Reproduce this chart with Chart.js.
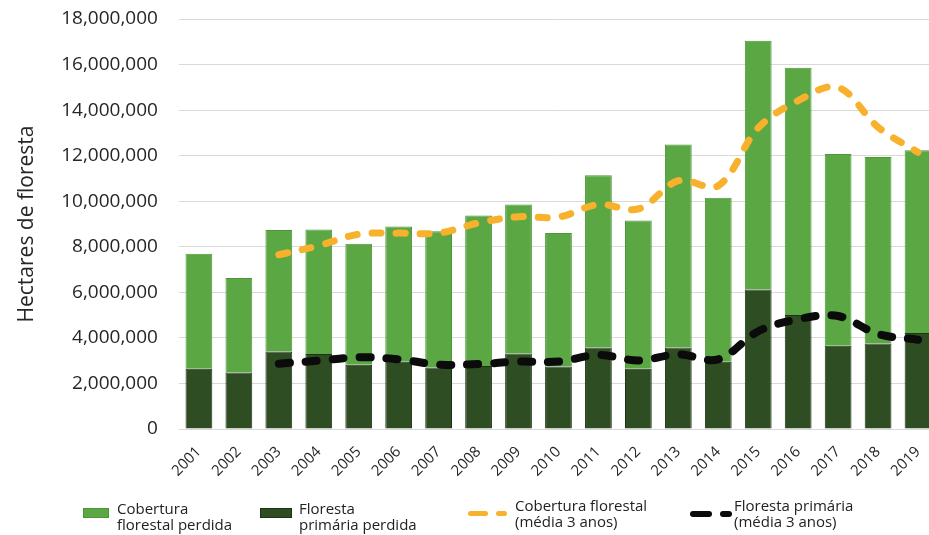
<!DOCTYPE html>
<html>
<head>
<meta charset="utf-8">
<script src="https://cdn.jsdelivr.net/npm/chart.js@4.4.1/dist/chart.umd.min.js"></script>
<style>
  html, body { margin: 0; padding: 0; background: #fff; overflow: hidden; width: 929px; height: 535px; }
  #wrap { position: relative; width: 929px; height: 535px; overflow: hidden; }
  canvas { position: absolute; left: 0; top: 0; }
  .lg { position: absolute; font-family: "Open Sans", sans-serif; font-size: 15px; line-height: 16px; color: #222; white-space: nowrap; }
  .sw { position: absolute; }
</style>
</head>
<body>
<div id="wrap">
  <canvas id="c" width="940" height="535" style="width:940px;height:535px"></canvas>
  <div id="legend"></div>
</div>
<script>
// ---- data ----
const years = ["2001","2002","2003","2004","2005","2006","2007","2008","2009","2010",
               "2011","2012","2013","2014","2015","2016","2017","2018","2019"];
// total tree cover loss (top of each bar), hectares
const totalCoverLoss = [7690000, 6630000, 8740000, 8760000, 8130000, 8890000, 8680000, 9370000, 9860000, 8600000,
                        11140000, 9150000, 12490000, 10150000, 17050000, 15860000, 12070000, 11940000, 12240000];
// primary forest loss (dark lower segment), hectares
const primaryLoss = [2650000, 2480000, 3400000, 3290000, 2820000, 2950000, 2700000, 2770000, 3310000, 2740000,
                     3580000, 2650000, 3580000, 2950000, 6120000, 5000000, 3650000, 3750000, 4210000];
// 3-year averages (dashed lines)
const coverAvg3 = [null, null, 7650000, 8050000, 8550000, 8600000, 8600000, 9050000, 9320000, 9300000,
                   9860000, 9660000, 10900000, 10680000, 13220000, 14420000, 15000000, 13250000, 12150000];
const primaryAvg3 = [null, null, 2870000, 3000000, 3150000, 3060000, 2830000, 2850000, 2960000, 2960000,
                     3250000, 3010000, 3280000, 3060000, 4290000, 4820000, 4960000, 4170000, 3920000];
const yTicks = [0, 2000000, 4000000, 6000000, 8000000, 10000000, 12000000, 14000000, 16000000, 18000000];

const labels = {
  cover: "Cobertura\nflorestal perdida",
  primary: "Floresta\nprimária perdida",
  coverAvg: "Cobertura florestal\n(média 3 anos)",
  primaryAvg: "Floresta primária\n(média 3 anos)"
};

const coverOnly = totalCoverLoss.map((t, i) => t - primaryLoss[i]);

const COL = {
  light: "#5ba743", lightB: "#4c9735",
  dark: "#2e4d22", darkB: "#1c3414",
  orange: "#f7b12c", black: "#0b0b0b",
  text: "#262626", grid: "#d9d9d9"
};

const chart = new Chart(document.getElementById("c"), {
  type: "bar",
  data: {
    labels: years,
    datasets: [
      { type: "line", label: labels.coverAvg, data: coverAvg3, stack: "l1",
        borderColor: COL.orange, borderWidth: 7, borderDash: [9, 15], borderCapStyle: "round",
        pointRadius: 0, tension: 0.35, fill: false },
      { type: "line", label: labels.primaryAvg, data: primaryAvg3, stack: "l2",
        borderColor: COL.black, borderWidth: 8, borderDash: [11, 16], borderCapStyle: "round",
        pointRadius: 0, tension: 0.35, fill: false },
      { type: "bar", label: labels.primary, data: primaryLoss, stack: "b",
        backgroundColor: COL.dark, borderColor: COL.darkB, borderWidth: 1,
        categoryPercentage: 1, barPercentage: 0.67 },
      { type: "bar", label: labels.cover, data: coverOnly, stack: "b",
        backgroundColor: COL.light, borderColor: COL.lightB, borderWidth: 1,
        categoryPercentage: 1, barPercentage: 0.67 }
    ]
  },
  options: {
    responsive: false,
    animation: false,
    devicePixelRatio: 1,
    layout: { padding: { left: 10, right: 2, top: 19, bottom: 49 } },
    plugins: { legend: { display: false }, tooltip: { enabled: false } },
    scales: {
      x: {
        stacked: true,
        grid: { display: false },
        border: { display: false },
        ticks: { color: COL.text, font: { family: "Open Sans", size: 15 }, maxRotation: 45, minRotation: 45, padding: 6, autoSkip: false }
      },
      y: {
        stacked: true,
        min: 0, max: 18000000,
        afterBuildTicks: (axis) => { axis.ticks = yTicks.map(v => ({ value: v })); },
        grid: { color: COL.grid, lineWidth: 1, drawTicks: true, tickLength: 19, tickColor: "rgba(0,0,0,0)" },
        border: { display: false },
        ticks: { color: COL.text, font: { family: "Open Sans", size: 19 }, padding: 2,
                 callback: (v) => Number(v).toLocaleString("en-US") },
        title: { display: true, text: "Hectares de floresta", color: COL.text,
                 font: { family: "Open Sans", size: 21, weight: "normal" }, padding: { top: 4, bottom: 20 } }
      }
    }
  }
});

// ---- HTML legend built from the chart's datasets ----
const legendEl = document.getElementById("legend");
const ds = chart.data.datasets;
const items = [
  { d: ds[3], kind: "box", sw: [83, 508, 26, 10], tx: [117, 500] },
  { d: ds[2], kind: "box", sw: [260, 508, 32, 10], tx: [299, 500] },
  { d: ds[0], kind: "dash", sw: [468, 511, 20, 11, 5], tx: [515, 497] },
  { d: ds[1], kind: "dash", sw: [690, 511, 22, 12, 6], tx: [734, 497] }
];
items.forEach(it => {
  if (it.kind === "box") {
    const s = document.createElement("div");
    s.className = "sw";
    Object.assign(s.style, { left: it.sw[0] + "px", top: it.sw[1] + "px", width: it.sw[2] + "px", height: it.sw[3] + "px",
      background: it.d.backgroundColor, boxSizing: "border-box", border: "1px solid " + it.d.borderColor });
    legendEl.appendChild(s);
  } else {
    const [x, y, w1, w2, h] = it.sw;
    [[x, w1], [x + w1 + 8, w2]].forEach(([lx, w]) => {
      const s = document.createElement("div");
      s.className = "sw";
      Object.assign(s.style, { left: lx + "px", top: y + "px", width: w + "px", height: h + "px",
        background: it.d.borderColor, borderRadius: (h / 2) + "px" });
      legendEl.appendChild(s);
    });
  }
  const t = document.createElement("div");
  t.className = "lg";
  t.style.left = it.tx[0] + "px";
  t.style.top = it.tx[1] + "px";
  it.d.label.split("\n").forEach((line, i) => {
    if (i) t.appendChild(document.createElement("br"));
    t.appendChild(document.createTextNode(line));
  });
  legendEl.appendChild(t);
});
</script>
</body>
</html>
